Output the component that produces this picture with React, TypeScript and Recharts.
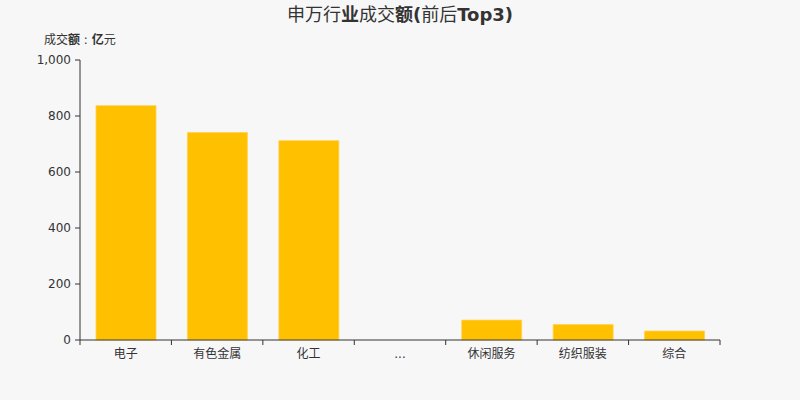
import { BarChart, Bar, XAxis, YAxis } from "recharts";

const industries = ["电子", "有色金属", "化工", "...", "休闲服务", "纺织服装", "综合"];
const turnover = [837, 741, 712, null, 71, 55, 32];
const yTicks = [0, 200, 400, 600, 800, 1000];

const data = industries.map((name, i) => ({ name, value: turnover[i] }));

const FONT = "'DejaVu Sans', 'Noto Sans CJK SC', sans-serif";

function CategoryTick(props: any) {
  const { x, y, payload, index, visibleTicksCount, width } = props;
  const band = width / visibleTicksCount;
  const axisY = y - 8;
  const left = x - band / 2;
  return (
    <g>
      <line x1={left} y1={axisY} x2={left} y2={axisY + 5} stroke="#333" />
      {index === visibleTicksCount - 1 && (
        <line x1={left + band} y1={axisY} x2={left + band} y2={axisY + 5} stroke="#333" />
      )}
      <text x={x} y={axisY + 18} textAnchor="middle" fontSize={12} fill="#333" fontFamily={FONT}>
        {payload.value}
      </text>
    </g>
  );
}

export default function App() {
  return (
    <div style={{ position: "relative", width: 800, height: 400, background: "#f7f7f7" }}>
      <style>{"body{margin:0;background:#f7f7f7}"}</style>
      <div
        style={{
          position: "absolute",
          top: 0,
          left: 0,
          width: 800,
          textAlign: "center",
          fontFamily: FONT,
          fontSize: 18,
          color: "#333",
        }}
      >
        申万行<b>业</b>成交<b>额(</b>前后<b>Top3)</b>
      </div>
      <div
        style={{
          position: "absolute",
          top: 30,
          left: 44,
          fontFamily: FONT,
          fontSize: 12,
          color: "#333",
        }}
      >
        成交<b>额</b> : <b>亿</b>元
      </div>
      <BarChart
        width={800}
        height={400}
        data={data}
        margin={{ top: 60, right: 80, left: 0, bottom: 30 }}
        barSize={60}
      >
        <XAxis
          dataKey="name"
          axisLine={{ stroke: "#333" }}
          tickLine={false}
          tickSize={4}
          tickMargin={4}
          height={30}
          interval={0}
          tick={<CategoryTick />}
        />
        <YAxis
          width={80}
          domain={[0, 1000]}
          ticks={yTicks}
          axisLine={{ stroke: "#333" }}
          tickLine={{ stroke: "#333" }}
          tickSize={5}
          tickMargin={4}
          tick={{ fill: "#333", fontSize: 12, fontFamily: FONT }}
          tickFormatter={(v: number) => v.toLocaleString("en-US")}
        />
        <Bar dataKey="value" fill="#ffc000" stroke="#ffd24f" strokeWidth={0.8} isAnimationActive={false} />
      </BarChart>
    </div>
  );
}
